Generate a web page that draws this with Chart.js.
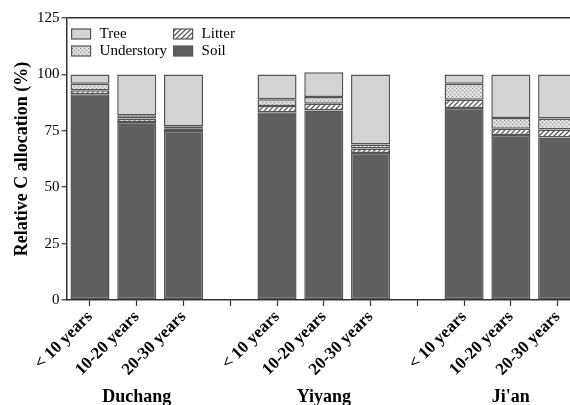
<!DOCTYPE html>
<html>
<head>
<meta charset="utf-8">
<script src="https://cdn.jsdelivr.net/npm/chart.js@4.4.1/dist/chart.umd.min.js"></script>
<style>
  html, body { margin: 0; padding: 0; background: #fff; overflow: hidden; }
  #wrap { width: 570px; height: 405px; overflow: hidden; }
</style>
</head>
<body>
<div id="wrap"><canvas id="allocChart" width="581" height="405"></canvas></div>
<script>
// sites and stand age classes
const sites = ['Duchang', 'Yiyang', "Ji'an"];
const ageClasses = ['< 10 years', '10-20 years', '20-30 years'];

// relative C allocation (%), 3 bars per site: Duchang x3, Yiyang x3, Ji'an x3
const soil       = [91.2, 78.9, 74.9,  83.2, 84.0, 65.2,  85.1, 73.1, 72.0];
const litter     = [ 1.8,  1.6,  1.0,   2.8,  3.0,  1.9,   3.7,  2.8,  3.6];
const understory = [ 2.9,  1.4,  1.1,   3.0,  3.0,  1.8,   7.1,  4.8,  4.8];
const tree       = [ 4.1, 18.1, 23.0,  11.0, 11.0, 31.1,   4.1, 19.3, 19.6];

const yTicks = [0, 25, 50, 75, 100, 125];

// empty slot between sites
function withGaps(values) {
    const out = [];
    sites.forEach((s, i) => {
        if (i > 0) out.push(null);
        for (let k = 0; k < ageClasses.length; k++) out.push(values[i * ageClasses.length + k]);
    });
    return out;
}

const labels = [];
sites.forEach((s, i) => {
    if (i > 0) labels.push('');
    ageClasses.forEach(a => labels.push(a));
});

function makeHatch() {
    const c = document.createElement('canvas');
    c.width = 5; c.height = 5;
    const g = c.getContext('2d');
    g.fillStyle = '#ffffff';
    g.fillRect(0, 0, 5, 5);
    g.strokeStyle = '#5a5a5a';
    g.lineWidth = 1.3;
    g.beginPath();
    g.moveTo(-1, 6); g.lineTo(6, -1);
    g.moveTo(-1, 1); g.lineTo(1, -1);
    g.moveTo(4, 6); g.lineTo(6, 4);
    g.stroke();
    return g.createPattern(c, 'repeat');
}

function makeCross() {
    const c = document.createElement('canvas');
    c.width = 4; c.height = 4;
    const g = c.getContext('2d');
    g.fillStyle = '#d6d6d6';
    g.fillRect(0, 0, 4, 4);
    g.fillStyle = '#8c8c8c';
    g.fillRect(0, 0, 1, 1);
    g.fillRect(2, 2, 1, 1);
    g.fillStyle = '#f4f4f4';
    g.fillRect(2, 0, 1, 1);
    g.fillRect(0, 2, 1, 1);
    return g.createPattern(c, 'repeat');
}

const hatch = makeHatch();
const cross = makeCross();
const edge = '#555555';
const serif = "'Liberation Serif', 'Times New Roman', serif";

function series(label, values, fill) {
    return {
        label: label,
        data: withGaps(values),
        backgroundColor: fill,
        borderColor: edge,
        borderWidth: 1.5,
        borderSkipped: false,
        barPercentage: 0.835,
        categoryPercentage: 1.0
    };
}

// legend inside plot + site names under the groups
const extras = {
    id: 'extras',
    afterDraw(chart) {
        const ctx = chart.ctx;
        const area = chart.chartArea;
        const xs = chart.scales.x;
        ctx.save();
        const items = [
            ['Tree', '#d3d3d3', 5, 11],
            ['Understory', cross, 5, 28],
            ['Litter', hatch, 107, 11],
            ['Soil', '#5f5f5f', 107, 28]
        ];
        ctx.font = '15px ' + serif;
        ctx.textBaseline = 'middle';
        items.forEach(([name, fill, dx, dy]) => {
            const x = area.left + dx, y = area.top + dy;
            ctx.fillStyle = fill;
            ctx.fillRect(x, y, 19, 10);
            ctx.strokeStyle = edge;
            ctx.lineWidth = 1.2;
            ctx.strokeRect(x, y, 19, 10);
            ctx.fillStyle = '#000';
            ctx.fillText(name, x + 28, y + 5);
        });

        ctx.font = 'bold 18px ' + serif;
        ctx.textAlign = 'center';
        ctx.textBaseline = 'alphabetic';
        sites.forEach((s, i) => {
            const x = xs.getPixelForValue(i * (ageClasses.length + 1) + 1);
            ctx.fillText(s, x, 402);
        });
        ctx.restore();
    }
};

const chart = new Chart(document.getElementById('allocChart'), {
    type: 'bar',
    data: {
        labels: labels,
        datasets: [
            series('Soil', soil, '#5f5f5f'),
            series('Litter', litter, hatch),
            series('Understory', understory, cross),
            series('Tree', tree, '#d3d3d3')
        ]
    },
    options: {
        responsive: false,
        animation: false,
        layout: { padding: { top: 18, left: 0, right: 0, bottom: 0 } },
        plugins: {
            legend: { display: false },
            tooltip: { enabled: false }
        },
        scales: {
            x: {
                stacked: true,
                grid: {
                    offset: false,
                    drawOnChartArea: false,
                    tickLength: 6,
                    tickColor: '#333',
                    tickWidth: 1.2
                },
                border: { color: '#333', width: 1.5 },
                ticks: {
                    autoSkip: false,
                    maxRotation: 45,
                    minRotation: 45,
                    padding: 1,
                    color: '#000',
                    font: { family: serif, size: 17, weight: 'bold' }
                },
                afterFit(scale) { scale.height = 105; }
            },
            y: {
                stacked: true,
                min: 0,
                max: 125,
                afterBuildTicks(scale) { scale.ticks = yTicks.map(v => ({ value: v })); },
                grid: {
                    drawOnChartArea: true,
                    color: c => c.tick && c.tick.value === 125 ? '#333' : 'rgba(0,0,0,0)',
                    tickColor: '#333',
                    tickLength: 5,
                    lineWidth: 1.5,
                    tickWidth: 1.2
                },
                border: { color: '#333', width: 1.5 },
                ticks: {
                    padding: 2,
                    color: '#000',
                    font: { family: serif, size: 15 }
                },
                title: {
                    display: true,
                    text: 'Relative C allocation (%)',
                    color: '#000',
                    padding: { top: 12, bottom: 4 },
                    font: { family: serif, size: 18, weight: 'bold' }
                },
                afterFit(scale) { scale.width = 66.6; }
            }
        }
    },
    plugins: [extras]
});
</script>
</body>
</html>
